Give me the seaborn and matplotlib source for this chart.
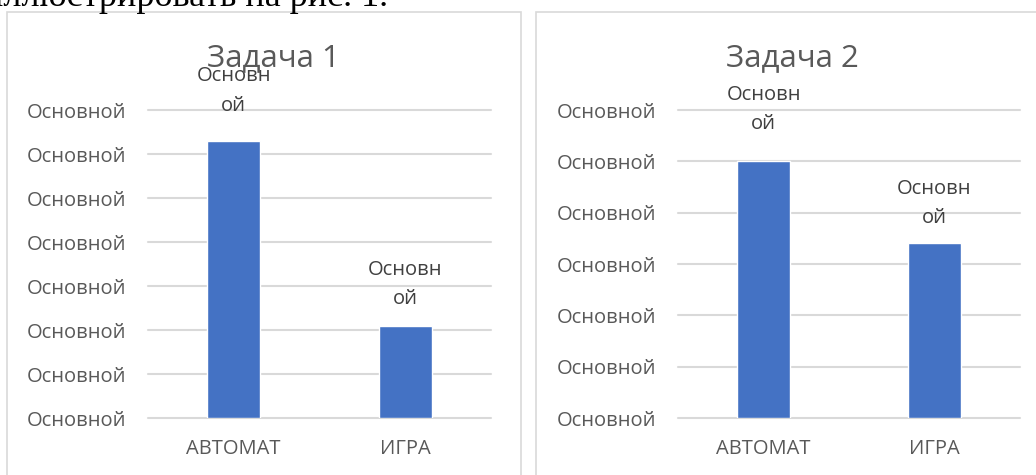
import matplotlib
matplotlib.use("Agg")
import matplotlib.pyplot as plt
import seaborn as sns
import pandas as pd
from matplotlib.patches import Rectangle

# ---- data ----
categories = ["АВТОМАТ", "ИГРА"]
task1_values = [6.3, 2.1]
task2_values = [5.0, 3.4]
titles = ["Задача 1", "Задача 2"]
tick_label_text = "Основной"
data_label_text = "Основн\nой"
task1_ticks = [0, 1, 2, 3, 4, 5, 6, 7]
task2_ticks = [0, 1, 2, 3, 4, 5, 6]
caption_text = "иллюстрировать на рис. 1."

sns.set_theme(style="white")
plt.rcParams['font.family'] = ['Open Sans', 'DejaVu Sans']

W, H = 1036, 475
fig = plt.figure(figsize=(W / 100, H / 100), dpi=100)

BAR = "#4472C4"
GRID = "#D9D9D9"
TXT = "#595959"
LBL = "#404040"
PX = 0.72  # points per pixel at dpi 100

# panel frames
fig.add_artist(Rectangle((7 / W, -0.05), (521 - 7) / W, (475 - 12) / H + 0.05,
                         transform=fig.transFigure, fill=False, ec=GRID, lw=1.2))
fig.add_artist(Rectangle((536 / W, -0.05), 1.0, (475 - 12) / H + 0.05,
                         transform=fig.transFigure, fill=False, ec=GRID, lw=1.2))

# cut-off document text above the charts
fig.text(388 / W, (475 - 6) / H, caption_text, ha="right", va="baseline",
         family="Liberation Serif", fontsize=26, color="black")

panels = [
    dict(vals=task1_values, ticks=task1_ticks, title=titles[0], x0=148, x1=491,
         title_x=273, offsets=[50, 41]),
    dict(vals=task2_values, ticks=task2_ticks, title=titles[1], x0=678, x1=1020,
         title_x=792, offsets=[52, 40]),
]

y0, y1 = 418, 110
for p in panels:
    ax = fig.add_axes([p["x0"] / W, (H - y0) / H, (p["x1"] - p["x0"]) / W, (y0 - y1) / H])
    df = pd.DataFrame({"cat": categories, "val": p["vals"]})
    sns.barplot(data=df, x="cat", y="val", color=BAR, saturation=1, width=0.31, ax=ax, zorder=3)
    ax.set_xlim(-0.5, 1.5)
    ax.set_ylim(p["ticks"][0], p["ticks"][-1])
    ax.set_yticks(p["ticks"])
    ax.set_yticklabels([tick_label_text] * len(p["ticks"]))
    ax.set_xlabel("")
    ax.set_ylabel("")
    for s in ax.spines.values():
        s.set_visible(False)
    ax.grid(False)
    for t in p["ticks"]:
        ax.axhline(t, color=GRID, lw=1.5, zorder=1, clip_on=False)
    ax.tick_params(axis="y", length=0, pad=16, labelsize=14.5, labelcolor=TXT)
    ax.tick_params(axis="x", length=0, pad=15, labelsize=14.5, labelcolor=TXT)
    ax.patch.set_alpha(0)
    for i, (v, off) in enumerate(zip(p["vals"], p["offsets"])):
        ax.annotate(data_label_text, xy=(i, v), xytext=(0, off * PX),
                    textcoords="offset points", ha="center", va="center",
                    fontsize=14.5, color=LBL, linespacing=1.63, annotation_clip=False)
    fig.text(p["title_x"] / W, (H - 58) / H, p["title"], ha="center", va="center",
             fontsize=22.5, color=TXT)

fig.savefig("out.png", dpi=100)
